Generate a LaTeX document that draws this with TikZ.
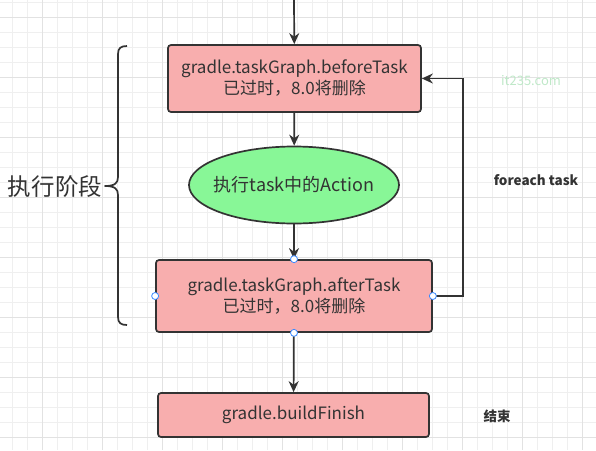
\documentclass[tikz,border=0pt]{standalone}
\usepackage{fontspec}
\setmainfont{Noto Sans CJK SC}
\usetikzlibrary{arrows.meta,shapes.geometric,positioning}
\definecolor{boxpink}{HTML}{F8AEAE}
\definecolor{actgreen}{HTML}{88F797}
\definecolor{linegray}{HTML}{333333}
\definecolor{gridminor}{HTML}{EFEFEF}
\definecolor{gridmajor}{HTML}{E2E2E2}
\definecolor{handleblue}{HTML}{3D8BFF}
\definecolor{markgreen}{HTML}{BFE8C8}

\begin{document}
\begin{tikzpicture}[x=1pt,y=-1pt,
  stagebox/.style={draw=linegray,fill=boxpink,line width=1.7pt,rounded corners=3pt,
    align=center,text=linegray,font=\fontsize{17}{21}\selectfont,inner sep=0pt},
  flow/.style={draw=linegray,line width=1.7pt,-{Stealth[length=11pt,width=10pt]}},
  handle/.style={circle,draw=handleblue,fill=white,line width=0.8pt,minimum size=7pt,inner sep=0pt},
  note/.style={text=linegray,font=\fontsize{13.5}{16}\selectfont\bfseries}]
\useasboundingbox (0,0) rectangle (596,450);
% background grid
\foreach \gx in {12,27,...,596} \draw[gridminor,line width=0.8pt] (\gx,0) -- (\gx,450);
\foreach \gy in {2,17,...,450} \draw[gridminor,line width=0.8pt] (0,\gy) -- (596,\gy);
\foreach \gx in {42,102,...,596} \draw[gridmajor,line width=0.8pt] (\gx,0) -- (\gx,450);
\foreach \gy in {17,77,...,450} \draw[gridmajor,line width=0.8pt] (0,\gy) -- (596,\gy);

% flow
\coordinate (start) at (294,0);
\node[stagebox,minimum width=253pt,minimum height=67pt] (before) at (294.5,78.5)
  {gradle.taskGraph.beforeTask\\已过时，8.0将删除};
\node[ellipse,draw=linegray,fill=actgreen,line width=1.7pt,text=linegray,inner sep=0pt,
  minimum width=210pt,minimum height=77pt,font=\fontsize{18}{22}\selectfont] (action) at (294,185)
  {\makebox[0pt]{执行task中的Action}};
\node[stagebox,minimum width=276pt,minimum height=72pt] (after) at (294,296)
  {gradle.taskGraph.afterTask\\已过时，8.0将删除};
\node[stagebox,minimum width=271pt,minimum height=44pt] (finish) at (293.5,415)
  {gradle.buildFinish};

\draw[flow] (start) -- (before);
\draw[flow] (before) -- (action);
\draw[flow] (action) -- (after);
\draw[flow] (after) -- (finish);
\draw[flow] (after.east) -- ++(30,0) |- (before.east);

% selection handles
\foreach \side in {north,west,east,south}
  \node[handle] at (after.\side) {};

% brace and labels
\draw[linegray,line width=1.7pt,line join=round]
  (127,46) .. controls (121,46) and (118,48) .. (118,54) -- (118,177)
  .. controls (118,183) and (115,186) .. (105,186)
  .. controls (115,186) and (118,189) .. (118,195) -- (118,317)
  .. controls (118,323) and (121,325) .. (127,325);
\node[text=linegray,font=\fontsize{23.5}{27}\selectfont] (phase) at (55,187) {执行阶段};
\node[note] (loop) at (536,180) {foreach task};
\node[note] (done) at (497,416) {结束};
\node[text=markgreen,font=\fontsize{13}{16}\selectfont] (mark) at (531,81) {it235.com};
\end{tikzpicture}
\end{document}
